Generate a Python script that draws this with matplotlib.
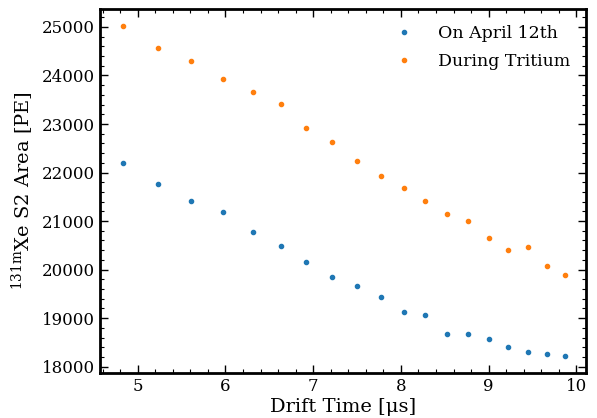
import numpy as np
import matplotlib
matplotlib.use("Agg")
import matplotlib.pyplot as plt
from matplotlib.ticker import MultipleLocator

plt.rcParams['font.family'] = ['DejaVu Serif']
plt.rcParams['mathtext.fontset'] = 'dejavuserif'

# drift time bins [us]
drift_time = [4.83, 5.23, 5.61, 5.97, 6.31, 6.63, 6.92, 7.22, 7.50, 7.77,
              8.03, 8.28, 8.52, 8.77, 9.00, 9.22, 9.45, 9.66, 9.87]
# 131mXe S2 area [PE]
s2_april = [22195, 21762, 21418, 21177, 20785, 20496, 20160, 19850, 19671, 19432,
            19135, 19067, 18681, 18669, 18572, 18407, 18298, 18262, 18215]
s2_tritium = [25012, 24559, 24299, 23928, 23651, 23412, 22923, 22635, 22243, 21919,
              21680, 21418, 21156, 20999, 20661, 20401, 20463, 20077, 19898]

fig = plt.figure(figsize=(5.97, 4.18), dpi=100)
ax = fig.add_axes([0.1675, 0.1077, 0.8141, 0.8708])

ax.plot(drift_time, s2_april, 'o', ms=3, color='#1f77b4', label='On April 12th')
ax.plot(drift_time, s2_tritium, 'o', ms=3, color='#ff7f0e', label='During Tritium')

ax.set_xlim(4.57, 10.11)
ax.set_ylim(17870, 25370)
ax.xaxis.set_major_locator(MultipleLocator(1))
ax.xaxis.set_minor_locator(MultipleLocator(0.2))
ax.yaxis.set_major_locator(MultipleLocator(1000))
ax.yaxis.set_minor_locator(MultipleLocator(200))
ax.tick_params(which='both', direction='in', top=True, right=True, labelsize=12)
ax.tick_params(which='major', length=6, width=1)
ax.tick_params(which='minor', length=3, width=0.8)
for s in ax.spines.values():
    s.set_linewidth(2)

ax.set_xlabel('Drift Time [μs]', fontsize=14, labelpad=2)
ax.set_ylabel(r'$^{131\mathrm{m}}$Xe S2 Area [PE]', fontsize=14)
ax.legend(loc='upper right', frameon=False, fontsize=12.5, handletextpad=1.2,
          handlelength=1.5, labelspacing=0.65)

fig.savefig('out.png', dpi=100)
